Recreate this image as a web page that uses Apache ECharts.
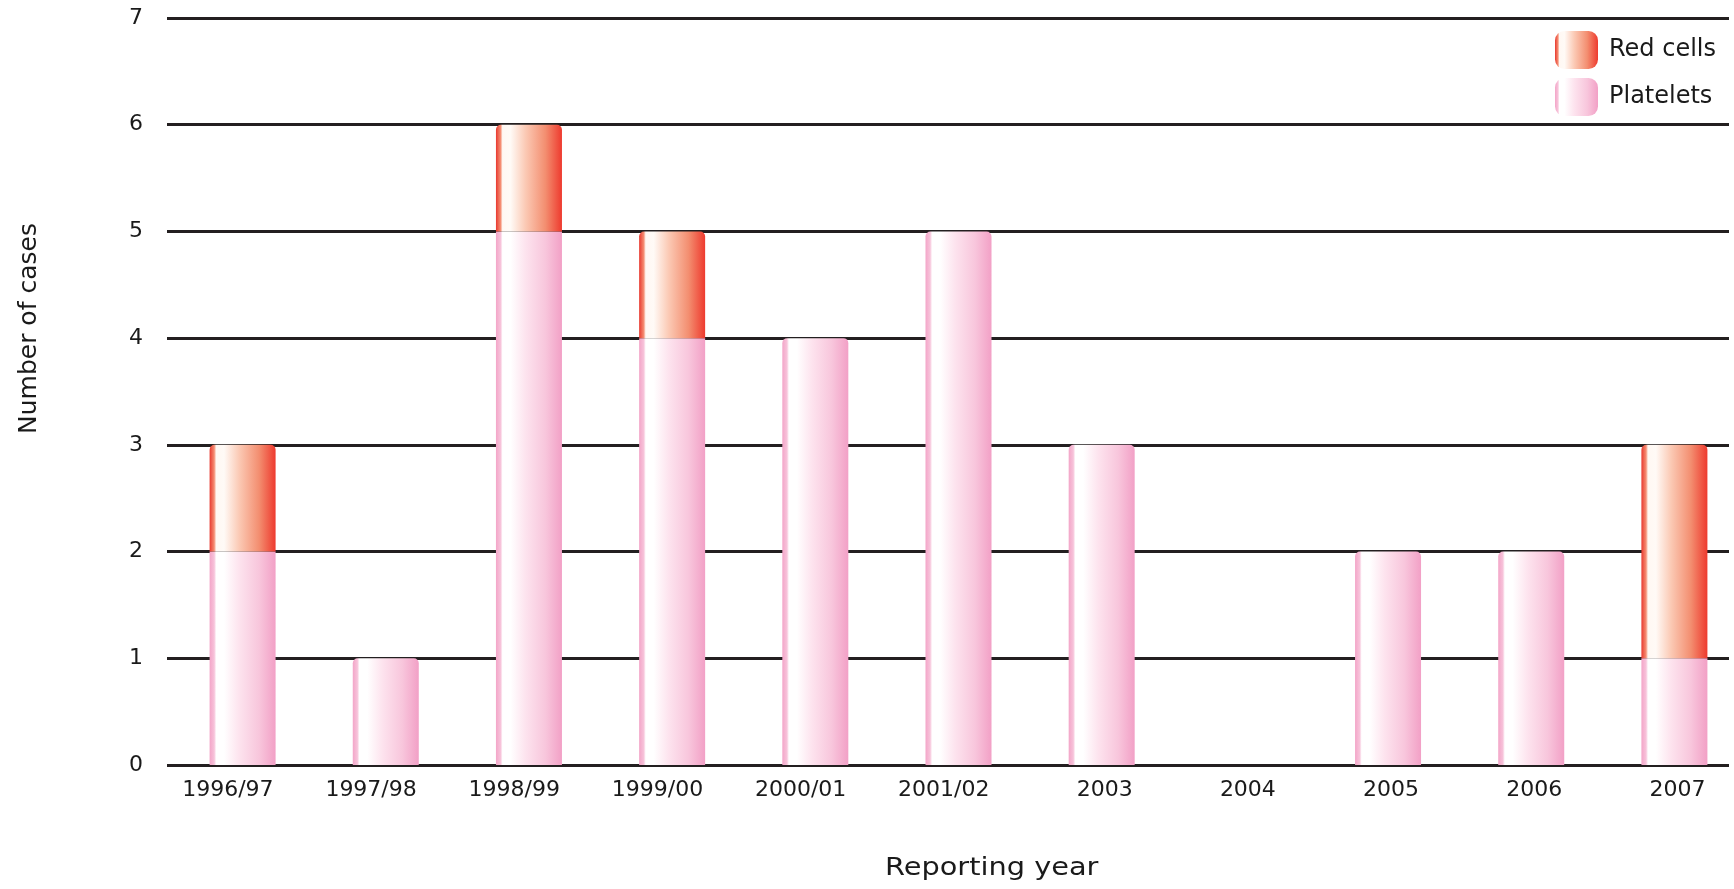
<!DOCTYPE html>
<html>
<head>
<meta charset="utf-8">
<script src="https://cdn.jsdelivr.net/npm/echarts@6/dist/echarts.min.js"></script>
<style>
  html, body { margin: 0; padding: 0; background: #ffffff; }
  #chart { width: 1734px; height: 889px; }
</style>
</head>
<body>
<div id="chart"></div>
<script>
// Reporting years and case counts by component type
const years = ['1996/97', '1997/98', '1998/99', '1999/00', '2000/01', '2001/02', '2003', '2004', '2005', '2006', '2007'];
const platelets = [2, 1, 5, 4, 4, 5, 3, 0, 2, 2, 1];
const redCells = [1, 0, 1, 1, 0, 0, 0, 0, 0, 0, 2];
const yTicks = [0, 1, 2, 3, 4, 5, 6, 7];

const TEXT = '#1a1a1a';
const LINE = '#231f20';

function gradient(stops) {
  return new echarts.graphic.LinearGradient(0, 0, 1, 0, stops.map(([offset, color]) => ({ offset, color })));
}

const pinkFill = gradient([
  [0, '#f3a5c8'], [0.07, '#f7c3da'], [0.1, '#ffffff'], [0.22, '#ffffff'],
  [0.45, '#fde3ee'], [0.75, '#f8c6dc'], [1, '#f2a0c6']
]);
const redFill = gradient([
  [0, '#e8392f'], [0.07, '#f58d72'], [0.1, '#fff8f3'], [0.22, '#fffaf6'],
  [0.45, '#fbc9b4'], [0.75, '#f38e70'], [1, '#ee3a2e']
]);

const chart = echarts.init(document.getElementById('chart'), null, { renderer: 'canvas' });

// Platelet bars get a rounded top only where nothing sits on them
const plateletData = platelets.map((v, i) => ({
  value: v,
  itemStyle: { borderRadius: redCells[i] > 0 ? 0 : [5, 5, 0, 0] }
}));

chart.setOption({
  animation: false,
  backgroundColor: '#ffffff',
  grid: [
    { left: 167, right: 5, top: 18, bottom: 124, outerBoundsMode: 'none' },
    { left: 171, right: -12, top: 18, bottom: 124, outerBoundsMode: 'none' }
  ],
  legend: {
    data: ['Red cells', 'Platelets'],
    orient: 'vertical',
    left: 1550,
    top: 26,
    itemWidth: 43,
    itemHeight: 38,
    itemGap: 9,
    icon: 'roundRect',
    textStyle: { color: TEXT, fontFamily: 'DejaVu Sans', fontSize: 24, padding: [0, 0, 0, 6] }
  },
  xAxis: [
    {
      gridIndex: 0, type: 'category', data: years,
      axisLine: { show: false }, axisTick: { show: false }, axisLabel: { show: false }
    },
    {
      gridIndex: 1, type: 'category', data: years,
      axisLine: { show: false }, axisTick: { show: false },
      axisLabel: {
        color: TEXT, fontFamily: 'DejaVu Sans', fontSize: 22, margin: 14, interval: 0,
        // year labels sit flush with the right side of their bar
        formatter: (v) => '{y|' + v + '}',
        rich: { y: { width: 62, align: 'right', color: TEXT, fontFamily: 'DejaVu Sans', fontSize: 22 } }
      }
    }
  ],
  yAxis: [
    {
      gridIndex: 0, type: 'value', min: yTicks[0], max: yTicks[yTicks.length - 1], interval: 1,
      axisLine: { show: false }, axisTick: { show: false },
      axisLabel: { color: TEXT, fontFamily: 'DejaVu Sans', fontSize: 22, margin: 24 },
      splitLine: { show: true, lineStyle: { color: LINE, width: 3 } }
    },
    {
      gridIndex: 1, type: 'value', min: yTicks[0], max: yTicks[yTicks.length - 1], interval: 1,
      show: false, splitLine: { show: false }
    }
  ],
  series: [
    {
      name: 'Platelets', type: 'bar', stack: 'cases',
      xAxisIndex: 1, yAxisIndex: 1,
      barWidth: 66,
      data: plateletData,
      itemStyle: { color: pinkFill }
    },
    {
      name: 'Red cells', type: 'bar', stack: 'cases',
      xAxisIndex: 1, yAxisIndex: 1,
      barWidth: 66,
      data: redCells,
      itemStyle: { color: redFill, borderRadius: [5, 5, 0, 0] }
    }
  ],
  graphic: [
    {
      type: 'text',
      x: 885, y: 857,
      scaleX: 1.2,
      style: { text: 'Reporting year', fill: TEXT, font: '24px "DejaVu Sans"' }
    },
    {
      type: 'text',
      x: 17, y: 434,
      rotation: Math.PI / 2,
      style: { text: 'Number of cases', fill: TEXT, font: '25px "DejaVu Sans"' }
    }
  ]
});
</script>
</body>
</html>
